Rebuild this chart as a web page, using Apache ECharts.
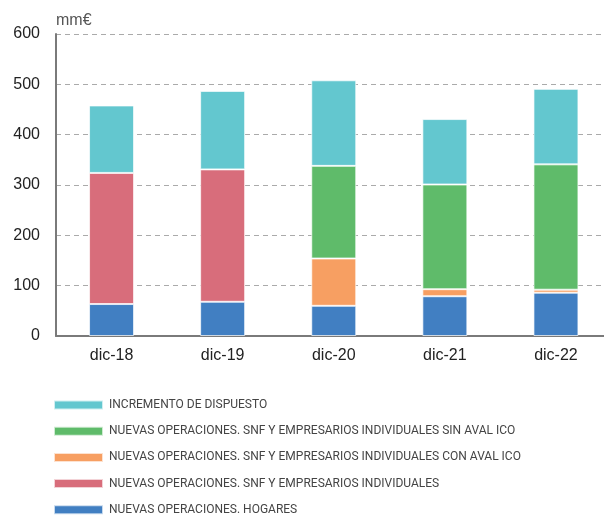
<!DOCTYPE html>
<html>
<head>
<meta charset="utf-8">
<script src="https://cdn.jsdelivr.net/npm/echarts@6/dist/echarts.min.js"></script>
<style>
  html, body { margin: 0; padding: 0; background: #fff; overflow: hidden; }
  #chart { width: 612px; height: 515px; }
</style>
</head>
<body>
<div id="chart"></div>
<script>
// Periods on the horizontal axis
const categories = ['dic-18', 'dic-19', 'dic-20', 'dic-21', 'dic-22'];

// Stacked components (mm€), bottom to top
const hogares      = [63.5, 68, 60, 79, 86];
const snfEmpresas  = [260.5, 263, null, null, null];
const conAvalIco   = [null, null, 94, 14, 6];
const sinAvalIco   = [null, null, 184, 208, 249];
const incremento   = [134, 156, 170, 130, 150];

// Y-axis ticks
const yTicks = [0, 100, 200, 300, 400, 500, 600];

const names = {
  inc: 'INCREMENTO DE DISPUESTO',
  sin: 'NUEVAS OPERACIONES. SNF Y EMPRESARIOS INDIVIDUALES SIN AVAL ICO',
  con: 'NUEVAS OPERACIONES. SNF Y EMPRESARIOS INDIVIDUALES CON AVAL ICO',
  snf: 'NUEVAS OPERACIONES. SNF Y EMPRESARIOS INDIVIDUALES',
  hog: 'NUEVAS OPERACIONES. HOGARES'
};

const colors = {
  inc: '#63c7cf',
  sin: '#5fbb6a',
  con: '#f79f62',
  snf: '#d86d7b',
  hog: '#417fc2'
};

function bar(key, data) {
  return {
    name: names[key],
    type: 'bar',
    stack: 'total',
    barWidth: 45,
    data: data,
    itemStyle: {
      color: colors[key],
      borderColor: 'rgba(255,255,255,0.7)',
      borderWidth: 1
    }
  };
}

const chart = echarts.init(document.getElementById('chart'), null, { renderer: 'canvas' });

chart.setOption({
  animation: false,
  backgroundColor: '#fff',
  grid: { left: 56, top: 34, width: 555.5, height: 302, containLabel: false },
  legend: {
    orient: 'vertical',
    left: 48,
    top: 394,
    height: 140,
    padding: 5,
    itemWidth: 49,
    itemHeight: 9,
    itemGap: 14.2,
    icon: 'rect',
    data: [names.inc, names.sin, names.con, names.snf, names.hog],
    textStyle: {
      fontFamily: 'Roboto, "Liberation Sans", sans-serif',
      fontSize: 12,
      lineHeight: 10,
      color: '#444',
      padding: [0, 0, 0, 1]
    }
  },
  xAxis: {
    type: 'category',
    data: categories,
    axisLine: { lineStyle: { color: '#7a7a7a', width: 2 } },
    axisTick: { inside: true, length: 5, lineStyle: { color: '#888' } },
    axisLabel: {
      margin: 12,
      fontFamily: '"Liberation Sans", Arial, sans-serif',
      fontSize: 16,
      color: '#222'
    }
  },
  yAxis: {
    type: 'value',
    min: yTicks[0],
    max: yTicks[yTicks.length - 1],
    interval: 100,
    name: 'mm€',
    nameLocation: 'end',
    nameGap: 5,
    nameTextStyle: {
      align: 'left',
      fontFamily: '"Liberation Sans", Arial, sans-serif',
      fontSize: 16,
      color: '#555'
    },
    axisLine: { show: true, lineStyle: { color: '#7a7a7a', width: 2 } },
    axisTick: { show: false },
    axisLabel: {
      margin: 16,
      fontFamily: '"Liberation Sans", Arial, sans-serif',
      fontSize: 16,
      color: '#222'
    },
    splitLine: {
      lineStyle: { color: '#aaa', type: [5, 4], width: 1 }
    }
  },
  series: [
    bar('hog', hogares),
    bar('snf', snfEmpresas),
    bar('con', conAvalIco),
    bar('sin', sinAvalIco),
    bar('inc', incremento)
  ]
});
</script>
</body>
</html>
